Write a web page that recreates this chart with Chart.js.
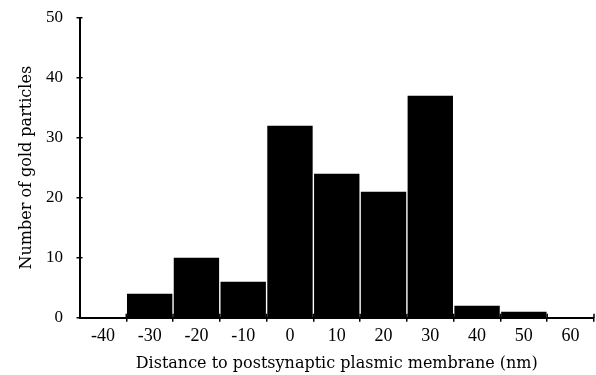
<!DOCTYPE html>
<html>
<head>
<meta charset="utf-8">
<script src="https://cdn.jsdelivr.net/npm/chart.js@4/dist/chart.umd.min.js"></script>
<style>
  html, body { margin: 0; padding: 0; background: #fff; }
  #wrap { width: 596px; height: 375px; }
</style>
</head>
<body>
<div id="wrap"><canvas id="c" width="596" height="375"></canvas></div>
<script>
// Histogram bins (bin centers, nm)
const distanceLabels = ['-40', '-30', '-20', '-10', '0', '10', '20', '30', '40', '50', '60'];
// Number of gold particles per bin
const particleCounts = [0, 4, 10, 6, 32, 24, 21, 37, 2, 1, 0];
// Y-axis tick values
const yTickValues = [0, 10, 20, 30, 40, 50];

const TICK_FONT = '"Liberation Serif", "DejaVu Serif", serif';
const TITLE_FONT = '"DejaVu Serif", "Liberation Serif", serif';

const crossTicks = {
  id: 'crossTicks',
  afterDraw(chart) {
    const ctx = chart.ctx;
    const x = chart.scales.x, y = chart.scales.y;
    ctx.save();
    ctx.strokeStyle = '#000';
    ctx.lineWidth = 1.5;
    for (let i = 1; i < y.ticks.length; i++) {
      const py = y.getPixelForTick(i);
      ctx.beginPath();
      ctx.moveTo(x.left, py);
      ctx.lineTo(x.left + 3, py);
      ctx.stroke();
    }
    const step = x.getPixelForTick(1) - x.getPixelForTick(0);
    for (let i = 1; i <= x.ticks.length; i++) {
      const px = x.getPixelForTick(0) + (i - 0.5) * step;
      ctx.beginPath();
      ctx.moveTo(px, y.bottom);
      ctx.lineTo(px, y.bottom - 4);
      ctx.stroke();
    }
    ctx.restore();
  }
};

new Chart(document.getElementById('c'), {
  type: 'bar',
  data: {
    labels: distanceLabels,
    datasets: [{
      data: particleCounts,
      backgroundColor: '#000',
      borderWidth: 0,
      barPercentage: 0.97,
      categoryPercentage: 1.0
    }]
  },
  options: {
    responsive: false,
    animation: false,
    devicePixelRatio: 1,
    layout: { padding: { top: 17.7, right: 2, left: 0, bottom: 0 } },
    plugins: {
      legend: { display: false },
      tooltip: { enabled: false }
    },
    scales: {
      x: {
        type: 'category',
        offset: true,
        afterFit: (scale) => { scale.height = 57.3; },
        grid: {
          offset: true,
          drawOnChartArea: false,
          drawTicks: true,
          tickLength: 4,
          lineWidth: 1.5,
          color: (c) => (c.index === 0 ? 'rgba(0,0,0,0)' : '#000')
        },
        border: { display: true, color: '#000', width: 2 },
        ticks: {
          color: '#000',
          padding: 4,
          maxRotation: 0,
          autoSkip: false,
          font: { family: TICK_FONT, size: 18 }
        },
        title: {
          display: true,
          text: 'Distance to postsynaptic plasmic membrane (nm)',
          color: '#000',
          padding: { top: 0, bottom: 1.4 },
          font: { family: TITLE_FONT, size: 16 }
        }
      },
      y: {
        min: 0,
        max: 50,
        afterBuildTicks: (scale) => { scale.ticks = yTickValues.map(v => ({ value: v })); },
        afterFit: (scale) => { scale.width = 79.5; scale.paddingTop = 0; scale.paddingBottom = 0; },
        grid: {
          drawOnChartArea: false,
          drawTicks: true,
          tickLength: 3,
          lineWidth: 1.5,
          color: '#000'
        },
        border: { display: true, color: '#000', width: 2 },
        ticks: {
          color: '#000',
          padding: 13.5,
          font: { family: TICK_FONT, size: 17 }
        },
        title: {
          display: true,
          text: 'Number of gold particles',
          color: '#000',
          padding: { top: 17.4, bottom: 0 },
          font: { family: TITLE_FONT, size: 16 }
        }
      }
    }
  },
  plugins: [crossTicks]
});
</script>
</body>
</html>
